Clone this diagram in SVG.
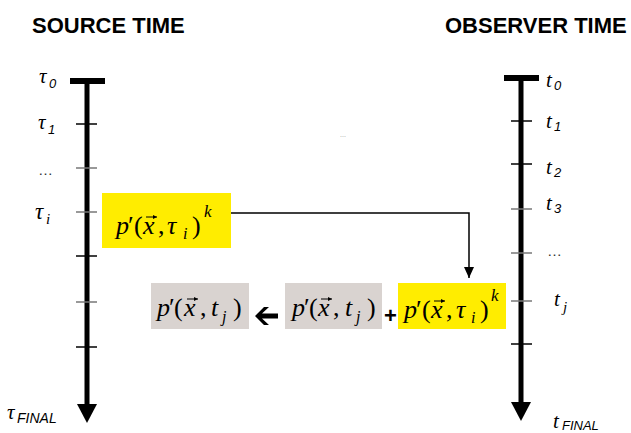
<svg xmlns="http://www.w3.org/2000/svg" width="631" height="433" viewBox="0 0 631 433">
<style>
.title{font-family:"Liberation Sans",Arial,sans-serif;font-weight:bold;font-size:22px;fill:#000}
.m{font-family:"Liberation Serif","Times New Roman",serif;font-style:italic;font-size:26px;fill:#000}
.u{font-style:normal}
.s{font-size:16px}
.vec{stroke:#000;stroke-width:1;fill:none}
.lab{font-family:"Liberation Serif","Times New Roman",serif;font-style:italic;font-size:21px;fill:#000}
.sub{font-family:"Liberation Sans",Arial,sans-serif;font-style:italic;font-size:13px;fill:#000}
.dots{font-family:"Liberation Sans",Arial,sans-serif;font-size:15px;fill:#333}
.axis{stroke:#000;stroke-width:5;fill:none}
.tick{stroke:#000;stroke-width:1.5}
.tickg{stroke:#777;stroke-width:1.5}
.yel{fill:#FFED00}
.gry{fill:#D9D3D0}
.conn{stroke:#000;stroke-width:1.5;fill:none}
</style>
<defs>
<marker id="ah" viewBox="0 0 11 10" refX="11" refY="5" markerWidth="11" markerHeight="10" markerUnits="userSpaceOnUse" orient="auto">
<path d="M0,0 L11,5 L0,10 Z" fill="#000"/>
</marker>
<marker id="va" viewBox="0 0 4 4" refX="4" refY="2" markerWidth="4" markerHeight="4" markerUnits="userSpaceOnUse" orient="auto">
<path d="M0,0 L4,2 L0,4 Z" fill="#000"/>
</marker>
</defs>
<rect width="631" height="433" fill="#fff"/>

<g id="source-time">
<text class="title" x="32" y="33">SOURCE TIME</text>
<rect x="70" y="78" width="35" height="6" fill="#000"/>
<line class="axis" x1="87" y1="80" x2="87" y2="405"/>
<polygon points="77,404 97,404 87,423" fill="#000"/>
<line class="tick" x1="76" y1="124" x2="97" y2="124"/>
<line class="tickg" x1="76" y1="168" x2="97" y2="168"/>
<line class="tickg" x1="76" y1="212" x2="97" y2="212"/>
<line class="tick" x1="76" y1="256" x2="97" y2="256"/>
<line class="tickg" x1="76" y1="302" x2="97" y2="302"/>
<line class="tick" x1="76" y1="347" x2="97" y2="347"/>
<text class="lab" x="39" y="83">τ</text><text class="sub" x="49" y="88">0</text>
<text class="lab" x="38" y="129">τ</text><text class="sub" x="48" y="134">1</text>
<text class="dots" x="38" y="175">…</text>
<text class="lab" x="35" y="219" style="font-size:23px">τ</text><text class="m" x="46" y="224" style="font-size:15px">i</text>
<text class="lab" x="7" y="419">τ</text><text class="sub" x="17" y="423" style="font-size:14px">FINAL</text>
</g>

<g id="observer-time">
<text class="title" x="445" y="33">OBSERVER TIME</text>
<rect x="504" y="75" width="35" height="6" fill="#000"/>
<line class="axis" x1="521" y1="77" x2="521" y2="403"/>
<polygon points="511,402 531,402 521,421" fill="#000"/>
<line class="tick" x1="511" y1="121" x2="532" y2="121"/>
<line class="tick" x1="511" y1="164" x2="532" y2="164"/>
<line class="tickg" x1="511" y1="209" x2="532" y2="209"/>
<line class="tickg" x1="511" y1="253" x2="532" y2="253"/>
<line class="tickg" x1="511" y1="301" x2="532" y2="301"/>
<line class="tick" x1="511" y1="344" x2="532" y2="344"/>
<text class="lab" x="546" y="87">t</text><text class="sub" x="554" y="90">0</text>
<text class="lab" x="546" y="128">t</text><text class="sub" x="554" y="131">1</text>
<text class="lab" x="546" y="174">t</text><text class="sub" x="554" y="177">2</text>
<text class="lab" x="546" y="210">t</text><text class="sub" x="554" y="213">3</text>
<text class="dots" x="547" y="256">…</text>
<text class="lab" x="554" y="306">t</text><text class="m" x="563" y="312" style="font-size:15px">j</text>
<text class="lab" x="553" y="428">t</text><text class="sub" x="562" y="430">FINAL</text>
</g>

<text class="dots" x="340" y="137" style="font-size:7px;fill:#999">...</text>

<g id="source-value">
<rect class="yel" x="102" y="193" width="129" height="55"/>
<text class="m" y="234"><tspan x="116">p</tspan><tspan x="128" class="u">′</tspan><tspan x="134" class="u">(</tspan><tspan x="143">x</tspan><tspan x="158" class="u">,</tspan><tspan x="167">τ</tspan><tspan x="183" y="239" class="s">i</tspan><tspan x="192" y="234" class="u">)</tspan><tspan x="204" y="217" class="s" style="font-size:17px">k</tspan></text>
<line class="vec" x1="146" y1="217" x2="157" y2="217" marker-end="url(#va)"/>
</g>

<g id="contribution">
<rect class="yel" x="398" y="283" width="108" height="46"/>
<text class="m" y="318"><tspan x="404">p</tspan><tspan x="416" class="u">′</tspan><tspan x="422" class="u">(</tspan><tspan x="431">x</tspan><tspan x="446" class="u">,</tspan><tspan x="456">τ</tspan><tspan x="471" y="323" class="s">i</tspan><tspan x="480" y="318" class="u">)</tspan><tspan x="491" y="301" class="s" style="font-size:17px">k</tspan></text>
<line class="vec" x1="434" y1="301" x2="445" y2="301" marker-end="url(#va)"/>
</g>

<g id="previous-value">
<rect class="gry" x="285" y="283" width="97" height="46"/>
<text class="m" y="316"><tspan x="292">p</tspan><tspan x="304" class="u">′</tspan><tspan x="309" class="u">(</tspan><tspan x="318">x</tspan><tspan x="333" class="u">,</tspan><tspan x="345">t</tspan><tspan x="356" y="322" class="s">j</tspan><tspan x="367" y="316" class="u">)</tspan></text>
<line class="vec" x1="321" y1="299" x2="332" y2="299" marker-end="url(#va)"/>
</g>

<text id="plus" class="title" x="384" y="323">+</text>

<g id="result-value">
<rect class="gry" x="151" y="283" width="98" height="46"/>
<text class="m" y="316"><tspan x="157">p</tspan><tspan x="169" class="u">′</tspan><tspan x="174" class="u">(</tspan><tspan x="184">x</tspan><tspan x="200" class="u">,</tspan><tspan x="211">t</tspan><tspan x="222" y="322" class="s">j</tspan><tspan x="233" y="316" class="u">)</tspan></text>
<line class="vec" x1="187" y1="299" x2="198" y2="299" marker-end="url(#va)"/>
</g>

<g id="connectors">
<polyline class="conn" points="231,213 469,213 469,278" marker-end="url(#ah)"/>
<polygon points="255,316 264,307 269,307 262,313.5 278,313.5 278,318.5 262,318.5 269,325 264,325" fill="#000"/>
</g>
</svg>
